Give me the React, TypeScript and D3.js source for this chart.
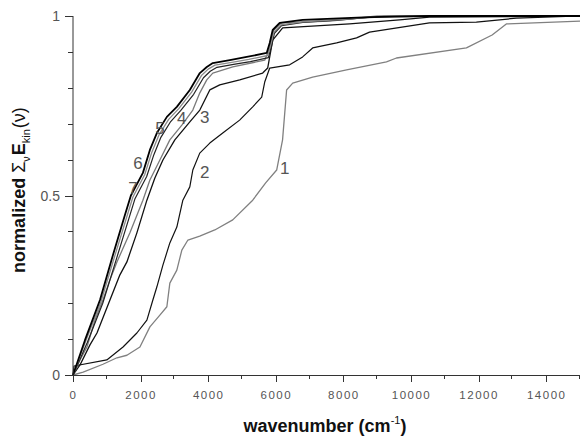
import React from "react";
import * as d3 from "d3";

const xTicksMajor = [0, 2000, 4000, 6000, 8000, 10000, 12000, 14000];
const xTicksMinor = [1000, 3000, 5000, 7000, 9000, 11000, 13000, 15000];
const yTicksMajor = [0, 0.5, 1];
const yTickLabels = ["0", "0.5", "1"];
const yTicksMinor = [0.1, 0.2, 0.3, 0.4, 0.6, 0.7, 0.8, 0.9];

const curve1: [number, number][] = [
  [0, 0], [300, 0.008], [886, 0.03], [1300, 0.048], [1595, 0.055], [1980, 0.078], [2275, 0.134],
  [2570, 0.167], [2777, 0.19], [2865, 0.256], [3072, 0.292], [3220, 0.348], [3400, 0.376],
  [3750, 0.387], [4195, 0.404], [4726, 0.432], [5317, 0.487], [5700, 0.535], [6026, 0.571],
  [6200, 0.655], [6320, 0.794], [6500, 0.813], [7090, 0.83], [8094, 0.85], [9275, 0.872],
  [9570, 0.883], [11640, 0.911], [12400, 0.947], [12820, 0.978], [15000, 0.986],
];
const curve2: [number, number][] = [
  [0, 0], [30, 0.025], [1000, 0.042], [1480, 0.078], [1890, 0.117], [2186, 0.153], [2363, 0.209],
  [2480, 0.245], [2660, 0.306], [2865, 0.368], [3072, 0.412], [3250, 0.487], [3456, 0.524],
  [3545, 0.571], [3750, 0.618], [4047, 0.646], [4430, 0.674], [4930, 0.71], [5317, 0.747],
  [5583, 0.774], [5672, 0.816], [5820, 0.855], [6410, 0.864], [6794, 0.886], [7090, 0.911],
  [7800, 0.925], [8390, 0.939], [8773, 0.955], [10546, 0.981], [11934, 0.983], [13116, 0.994],
  [15000, 1.0],
];
const curve3: [number, number][] = [
  [0, 0], [207, 0.028], [502, 0.084], [709, 0.117], [1093, 0.209], [1388, 0.279], [1595, 0.315],
  [1890, 0.396], [2186, 0.487], [2422, 0.549], [2660, 0.599], [3013, 0.655], [3456, 0.705],
  [3752, 0.738], [4047, 0.794], [4342, 0.808], [4933, 0.822], [5612, 0.841], [5760, 0.855],
  [5908, 0.933], [6203, 0.967], [8183, 0.978], [9660, 0.989], [10546, 0.997], [15000, 1.0],
];
const curve4: [number, number][] = [
  [0, 0], [207, 0.042], [413, 0.078], [650, 0.153], [886, 0.209], [1093, 0.265], [1300, 0.315],
  [1684, 0.396], [2068, 0.487], [2275, 0.543], [2570, 0.599], [2865, 0.655], [3220, 0.696],
  [3545, 0.738], [3752, 0.786], [3958, 0.822], [4136, 0.841], [4726, 0.858], [5672, 0.877],
  [5820, 0.911], [5938, 0.961], [6174, 0.981], [7592, 0.986], [8478, 0.994], [9660, 1.0],
  [15000, 1.0],
];
const curve5: [number, number][] = [
  [0, 0], [420, 0.09], [880, 0.2], [1290, 0.325], [1650, 0.435], [1830, 0.49], [2180, 0.553],
  [2390, 0.613], [2600, 0.662], [2890, 0.706], [3190, 0.737], [3570, 0.782], [3860, 0.828],
  [4060, 0.846], [4260, 0.857], [4750, 0.865], [5250, 0.873], [5780, 0.884], [5870, 0.915],
  [5960, 0.952], [6170, 0.973], [6800, 0.982], [8000, 0.99], [9200, 1.0], [15000, 1.0],
];
const curve6: [number, number][] = [
  [0, 0], [380, 0.095], [830, 0.205], [1230, 0.33], [1590, 0.44], [1770, 0.495], [2120, 0.558],
  [2330, 0.62], [2540, 0.668], [2830, 0.712], [3130, 0.742], [3510, 0.788], [3800, 0.834],
  [4000, 0.852], [4200, 0.863], [4700, 0.871], [5200, 0.879], [5760, 0.89], [5850, 0.92],
  [5940, 0.955], [6150, 0.975], [6800, 0.984], [8200, 0.992], [9000, 1.0], [15000, 1.0],
];
const curve7: [number, number][] = [
  [0, 0], [354, 0.097], [798, 0.209], [1182, 0.334], [1536, 0.446], [1713, 0.5], [2068, 0.563],
  [2275, 0.627], [2481, 0.674], [2777, 0.719], [3072, 0.747], [3456, 0.794], [3752, 0.841],
  [3958, 0.858], [4136, 0.869], [4638, 0.877], [5140, 0.886], [5731, 0.897], [5820, 0.925],
  [5908, 0.961], [6115, 0.981], [6794, 0.989], [8773, 0.997], [10546, 1.0], [15000, 1.0],
];

const seriesNames = ["1", "2", "3", "4", "5", "6", "7"];
const seriesData = [curve1, curve2, curve3, curve4, curve5, curve6, curve7];
const seriesColors = ["#808080", "#111111", "#111111", "#7a7a7a", "#222222", "#8a8a8a", "#000000"];
const seriesWidths = [1.3, 1.2, 1.3, 1.3, 1.2, 1.3, 1.8];
// label anchor points (data coords)
const labelX = [6262, 3900, 3900, 3220, 2570, 1920, 1772];
const labelY = [0.56, 0.549, 0.702, 0.699, 0.671, 0.574, 0.504];

export default function App() {
  const W = 580, H = 438;
  const x = d3.scaleLinear().domain([0, 15000]).range([73, 580]);
  const y = d3.scaleLinear().domain([0, 1]).range([375, 16]);
  const line = d3.line<[number, number]>().x((d) => x(d[0])).y((d) => y(d[1]));
  const font = "Arial, 'Liberation Sans', Helvetica, sans-serif";
  const axisColor = "#333";
  const tickTextColor = "#555";
  return (
    <svg width={W} height={H} style={{ position: "absolute", left: 0, top: 0, background: "#fff" }} fontFamily={font}>
      <rect x={0} y={0} width={W} height={H} fill="#fff" />
      {seriesData.map((d, i) => (
        <path key={i} d={line(d) || ""} fill="none" stroke={seriesColors[i]} strokeWidth={seriesWidths[i]} strokeLinejoin="round" />
      ))}
      {seriesNames.map((n, i) => (
        <text key={n} x={x(labelX[i])} y={y(labelY[i])} fontSize={17} fill="#555" textAnchor="middle">{n}</text>
      ))}
      {/* axes */}
      <line x1={73} x2={73} y1={16} y2={375.5} stroke={axisColor} strokeWidth={1} />
      <line x1={72.5} x2={580} y1={375.5} y2={375.5} stroke={axisColor} strokeWidth={1} />
      {yTicksMajor.map((t, i) => (
        <g key={"ym" + t}>
          <line x1={65} x2={73} y1={Math.round(y(t)) + 0.5} y2={Math.round(y(t)) + 0.5} stroke={axisColor} />
          <text x={60} y={y(t) + 5} fontSize={14} fill={tickTextColor} textAnchor="end">{yTickLabels[i]}</text>
        </g>
      ))}
      {yTicksMinor.map((t) => (
        <line key={"yn" + t} x1={68} x2={73} y1={Math.round(y(t)) + 0.5} y2={Math.round(y(t)) + 0.5} stroke={axisColor} />
      ))}
      {xTicksMajor.map((t) => (
        <g key={"xm" + t}>
          <line x1={Math.round(x(t)) + 0.5} x2={Math.round(x(t)) + 0.5} y1={375} y2={382} stroke={axisColor} />
          <text x={x(t) + 0.5} y={399} fontSize={11.5} letterSpacing={1.5} fill={tickTextColor} textAnchor="middle">{String(t)}</text>
        </g>
      ))}
      {xTicksMinor.map((t) => (
        <line key={"xn" + t} x1={Math.round(x(t)) - 0.5} x2={Math.round(x(t)) - 0.5} y1={375} y2={379} stroke={axisColor} />
      ))}
      {/* x title */}
      <text x={325} y={432} fontSize={18} fontWeight="bold" fill="#111" textAnchor="middle">
        wavenumber (cm
        <tspan fontSize={11} dy={-8} fontWeight="normal">-1</tspan>
        <tspan dy={8}>)</tspan>
      </text>
      {/* y title */}
      <text transform="translate(25,190) rotate(-90)" x={0} y={0} fontSize={18} fontWeight="bold" fill="#111" textAnchor="middle">
        normalized
        <tspan fontWeight="normal" dx={5}>Σ</tspan>
        <tspan fontWeight="normal" fontSize={11} dy={5}>ν</tspan>
        <tspan dy={-5} dx={1}>E</tspan>
        <tspan fontWeight="normal" fontSize={11} dy={5}>kin</tspan>
        <tspan fontWeight="normal" dy={-5} dx={1}>(ν)</tspan>
      </text>
    </svg>
  );
}
